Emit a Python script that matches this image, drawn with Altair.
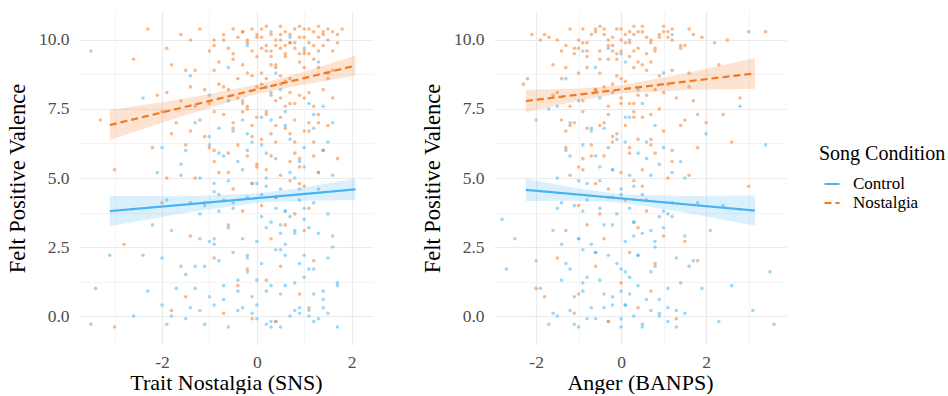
import altair as alt
import pandas as pd

# ---------------- Panel 1: Trait Nostalgia (SNS) ----------------
sns_nos_x = [
    -0.3, 0.1, 0.5, 0.8, 1.1, 1.4, 1.6, 0.2, -0.1, 0.9, 1.2, 0.4, -0.6, 0.7, 1.0, 1.3, 0.0, 0.6, -0.9, 1.5,
    0.3, -0.4, 1.7, 0.8, -1.2, 0.5, 1.1, -0.2, 0.9, 1.4, -1.6, 0.2, 1.8, -0.7, 0.6, 1.0, -2.3, 0.1, 1.3, -0.5,
    -0.8, -0.2, 0.3, 0.7, 1.2, -1.3, 0.0, 0.5, 1.0, -0.5, 1.5, -1.8, 0.2, 0.9, -0.9, 0.6, 1.3, -0.1, -2.6, 0.4,
    -1.1, -0.4, 0.1, 0.6, 1.1, -1.6, -0.7, 0.3, 0.8, 1.4, -0.2, -1.9, 0.5, 1.6, -1.0, 0.0, 0.9, -0.6, 1.2, -2.1, 0.4, -1.4, 0.7, -0.3,
    -1.2, -0.5, 0.2, 0.7, 1.3, -0.9, -0.1, 0.5, 1.0, -1.7, 0.3, -0.7, 0.8, 1.5, -1.4, 0.0, -3.3, 0.6, -0.3, 1.1,
    -1.0, -0.2, 0.4, 0.9, 1.4, -1.5, -0.6, 0.1, 0.7, -0.9, 1.2, 0.3, -2.2, -0.4, 0.8, 1.7,
    -0.8, -0.1, 0.5, 1.0, -1.3, 0.2, 0.7, -0.5, 1.3, -1.9, 0.0, 0.9, -3.0,
    -1.1, -0.3, 0.4, 1.1, -0.7, 0.8, 0.1, -2.0,
    -0.6, 0.3, 1.0, -1.4, 0.6, -2.8,
    -0.9, 0.5, -2.4, 1.2, -0.2,
    -0.4, 0.9, -3.4, 0.2, -1.5,
    -0.7, 0.4, -3.0, 1.1, -0.1, -1.8,
    -0.9, -0.5, -0.1, 0.3, 0.7, 1.0, 1.3, 1.6, 0.1, 0.5, 0.9, 1.2, -0.3, 0.6, 1.5, -1.4, 0.0, 0.8, 1.1, -0.7,
    0.4, 1.7, -1.0, 0.2, 1.4, -0.2, 0.7, -1.9, 1.0, 0.5,
    -1.5, -0.8, -0.2, 0.4, 1.0, 1.5, -1.1, 0.2, 0.8, -0.4, 1.3, -1.8, 0.0, 0.6, -0.6, 1.1, -1.3, 0.3, 0.9, -0.1,
    0.5, 1.6, -0.9, 0.1, 0.7, -0.5, 1.2, -2.0, 0.4, -0.3,
]
sns_nos_y = [
    10.3, 10.1, 9.7, 10.4, 9.9, 10.2, 9.6, 9.8, 10.4, 9.5, 10.3, 10.0, 9.7, 9.9, 10.4, 9.6, 10.2, 10.3, 9.8, 10.0,
    9.6, 10.1, 10.2, 9.7, 10.4, 10.5, 9.5, 9.9, 10.1, 9.8, 10.2, 9.6, 10.4, 10.0, 9.8, 9.6, 10.4, 10.4, 10.1, 9.5,
    9.2, 8.8, 9.1, 8.6, 9.3, 8.9, 9.4, 8.7, 9.0, 9.3, 8.8, 9.1, 8.6, 9.2, 8.9, 9.4, 9.0, 8.7, 9.3, 9.1,
    8.2, 7.9, 8.4, 7.6, 8.1, 7.8, 8.3, 8.0, 7.7, 8.2, 7.6, 8.1, 8.4, 7.9, 7.7, 8.3, 8.0, 8.2, 7.6, 8.0, 7.8, 8.3, 8.1, 7.7,
    7.1, 6.8, 7.3, 6.6, 7.0, 7.4, 6.9, 7.2, 6.7, 7.0, 6.6, 7.3, 7.1, 6.9, 6.7, 7.2, 7.1, 6.8, 7.4, 7.0,
    6.1, 5.8, 6.3, 5.7, 6.0, 6.2, 5.9, 6.4, 5.6, 6.0, 6.3, 5.8, 6.1, 6.2, 5.9, 5.7,
    5.2, 4.8, 5.1, 4.7, 5.0, 5.3, 4.9, 4.6, 5.2, 5.0, 5.4, 4.8, 5.3,
    4.1, 3.8, 4.3, 3.9, 4.2, 3.7, 4.0, 4.1,
    3.2, 2.8, 3.1, 2.9, 3.3, 2.6,
    2.1, 1.8, 2.2, 2.0, 1.7,
    1.1, 0.8, 1.0, 1.3, 0.7,
    0.1, -0.2, -0.4, 0.3, -0.1, 0.2,
    10.0, 10.4, 9.6, 10.2, 9.9, 10.1, 10.5, 10.3, 9.7, 10.2, 10.5, 9.8, 10.3, 9.5, 10.4, 10.0, 10.1, 9.9, 10.4, 10.2,
    9.8, 9.9, 9.6, 10.5, 10.3, 10.0, 10.2, 9.7, 9.5, 10.0,
    8.9, 8.4, 7.5, 9.0, 7.9, 8.6, 6.5, 7.4, 6.3, 8.6, 7.3, 6.6, 5.5, 8.5, 5.2, 6.7, 7.6, 9.4, 5.4, 6.5,
    7.9, 8.9, 5.6, 8.8, 7.7, 7.0, 5.8, 7.4, 6.9, 9.1,
]
sns_ctl_x = [
    -1.9, -1.2, -0.6, -0.1, 0.4, 0.9, 1.3, 1.7, -0.9, 0.2, 0.7, 1.1, -1.5, -0.3, 0.5, 1.5, -3.5, -2.6, 0.0, 1.2,
    -1.7, -1.0, -0.4, 0.2, 0.8, 1.4, -0.7, 0.5, 1.0, -1.3, -0.1, 1.7, -2.3, 0.3,
    -2.0, -1.1, -0.5, 0.1, 0.6, 1.2, -0.8, 0.4, 1.5, -1.6, -0.2, 0.9, -3.1,
    -1.8, -1.2, -0.6, 0.0, 0.5, 1.1, 1.6, -0.9, 0.3, 0.8, -0.3, 1.3, -2.2,
    -1.4, -0.8, -0.2, 0.4, 0.9, 1.5, -1.1, 0.1, 0.7, 1.2, -0.5, -1.9, 0.6,
    -1.6, -0.9, -0.3, 0.2, 0.8, 1.3, -0.6, 0.5, 1.0, -1.2, 0.0, 1.6, -2.1,
    -1.5, -0.7, -0.1, 0.4, 1.0, -1.0, 0.2, 0.7, 1.4, -0.4, -2.0,
    -1.3, -0.5, 0.1, 0.6, 1.2, -0.8, 0.3, 1.6, -0.2,
    -1.0, -0.3, 0.5, 1.1, -2.4, 0.2,
    -0.6, 0.4, 1.3, -1.4,
    -0.2, 0.7, 1.0, -3.5, 0.3,
    -1.4, -0.2, 0.6, 1.0, -0.8, 0.3, 1.4, -1.0, 0.1, 0.9,
    -1.8, -1.1, -0.4, 0.3, 0.9, 1.4, -0.7, 0.0, 0.6, 1.2, -1.5, -0.2, 0.5, 1.1, -0.9, 0.2, 0.8, 1.6, -1.2, -0.5,
    0.4, 1.0, -0.1, 0.7, 1.3, -1.6, -0.8, 0.1, 0.9, 1.5, -1.0, -0.3, 0.6, 1.2, -0.6, 0.3, 1.4, -2.0, 0.0, 0.8,
    -1.3, -0.4, 0.5, 1.0, -0.9, 0.2, 1.7, -0.2, 0.6, 1.1,
]
sns_ctl_y = [
    -0.3, 0.2, -0.4, 0.1, -0.2, 0.3, -0.1, -0.4, 0.4, -0.3, 0.0, 0.2, -0.1, 0.3, -0.4, 0.1, -0.3, 0.0, 0.4, -0.2,
    1.0, 0.7, 1.3, 0.9, 1.2, 0.6, 1.1, 0.8, 1.4, 1.0, 0.7, 1.2, 0.9, 1.1,
    2.1, 1.8, 2.3, 1.9, 2.2, 1.7, 2.0, 2.4, 2.1, 1.8, 2.2, 1.9, 2.2,
    3.1, 2.8, 3.3, 2.7, 3.0, 3.2, 2.9, 2.6, 3.4, 3.1, 2.8, 3.0, 3.3,
    4.1, 3.8, 4.3, 3.9, 4.2, 3.7, 4.0, 4.4, 3.6, 4.1, 3.9, 4.2, 3.8,
    5.1, 4.8, 5.3, 4.7, 5.0, 5.2, 4.9, 4.6, 5.4, 5.0, 4.8, 5.1, 5.2,
    6.0, 5.8, 6.3, 5.7, 6.1, 6.2, 5.9, 6.4, 6.0, 5.6, 6.1,
    7.0, 6.7, 7.2, 6.9, 7.3, 6.8, 7.1, 7.0, 6.6,
    8.0, 7.8, 8.2, 7.7, 7.9, 8.3,
    9.0, 8.8, 9.2, 8.7,
    9.8, 10.1, 9.7, 9.6, 10.3,
    0.3, 1.6, 2.6, 3.5, 4.4, -0.2, 0.9, 2.7, 3.6, 4.6,
    0.0, -0.3, 0.2, -0.4, 0.1, 0.3, 0.6, 1.3, 1.1, 0.8, 1.5, 2.1, 2.4, 1.7, 2.8, 3.2, 3.0, 2.5, 3.7, 4.1,
    4.3, 3.9, 4.8, 5.2, 4.6, 5.5, 5.9, 6.2, 5.6, 6.3, 6.5, 7.1, 7.4, 6.8, 7.8, 8.1, 7.6, 0.4, -0.1, 0.2,
    1.8, 0.9, 3.3, 2.2, 4.5, 5.0, 1.1, 6.0, 3.8, 0.0,
]
sns_fit_x = [-3.1, -1.5, 0.0, 1.0, 2.08]
sns_ctl_fit = [3.80, 4.04, 4.27, 4.42, 4.59]
sns_ctl_lo = [3.25, 3.74, 4.10, 4.18, 4.20]
sns_ctl_hi = [4.35, 4.34, 4.44, 4.66, 4.98]
sns_nos_fit = [6.92, 7.58, 8.21, 8.62, 9.07]
sns_nos_lo = [6.38, 7.28, 8.04, 8.39, 8.70]
sns_nos_hi = [7.46, 7.88, 8.38, 8.85, 9.44]

# ---------------- Panel 2: Anger (BANPS) ----------------
ang_nos_x = [
    -1.8, -1.3, -0.9, -0.5, -0.2, 0.1, 0.4, 0.8, 1.2, 1.6, -1.1, -0.7, -0.3, 0.0, 0.3, 0.6, 1.0, 1.4, -1.5, -0.6,
    0.2, 0.9, -0.1, 0.5, 1.9, 2.5, 3.0, -2.1, -0.8, 0.7, -0.4, 1.1, 3.4, -1.0, 0.3, 1.5, -0.2, 0.0,
    -1.6, -1.0, -0.5, -0.1, 0.3, 0.7, 1.2, -0.8, 0.0, 0.5, 1.6, -1.3, -0.3, 0.9, 2.3, -2.2, 0.2,
    -1.5, -0.9, -0.4, 0.0, 0.4, 0.8, 1.3, -1.2, -0.2, 0.6, 1.7, -0.6, 0.2, 1.0, 2.8, -2.3,
    -1.4, -0.8, -0.3, 0.1, 0.5, 1.0, -1.1, -0.1, 0.7, 1.5, -0.5, 0.3, 2.0,
    -1.3, -0.7, -0.2, 0.2, 0.7, 1.2, -0.9, 0.4, 1.8, -0.4, 2.6,
    -1.2, -0.6, 0.0, 0.5, 1.1, -0.9, 0.3, 1.6, -0.3, 3.0,
    -1.0, -0.2, 0.6, 1.2, -0.5, 0.1,
    -1.3, -0.4, 0.4, 1.0, -0.8, 1.5,
    -1.5, -0.6, 0.2, 0.8, 1.8,
    -2.0, -1.0, 0.0, 0.7, -1.8,
    -1.1, -0.3, 0.4, 1.3,
    -1.7, -1.2, -0.8, -0.4, 0.0, 0.3, 0.7, 1.1, 1.4, -1.0, -0.6, -0.1, 0.4, 0.9, 1.7, -1.4, -0.3, 0.2, 0.6, 1.2,
    -0.9, -0.5, 0.1, 0.8, -1.9, -0.2, 0.5, 1.0, -1.1, 2.2,
    -1.4, -0.9, -0.5, -0.1, 0.3, 0.7, 1.1, -1.2, -0.3, 0.5, 1.4, -0.7, 0.1, 0.9, -1.6, -0.2, 0.4, 1.2, -1.0, 0.0,
    0.6, -0.4, 1.6, -0.8, 0.2, 0.8, -1.3, 2.4, -0.6, 0.3,
]
ang_nos_y = [
    10.2, 9.8, 10.4, 9.6, 10.1, 9.9, 10.3, 9.7, 10.0, 10.4, 9.5, 10.2, 9.8, 10.4, 9.6, 10.1, 10.3, 9.7, 10.0, 10.4,
    9.9, 10.2, 9.5, 10.5, 10.1, 10.0, 10.3, 10.2, 9.6, 9.9, 10.4, 10.1, 10.3, 9.7, 10.2, 9.8, 9.6, 10.0,
    9.1, 8.8, 9.3, 8.7, 9.0, 9.2, 8.9, 9.4, 8.6, 9.1, 8.8, 9.0, 9.3, 8.7, 9.1, 8.6, 9.4,
    8.1, 7.8, 8.3, 7.7, 8.0, 8.2, 7.9, 7.6, 8.4, 8.0, 7.8, 8.2, 7.7, 8.1, 7.9, 8.4,
    7.1, 6.8, 7.3, 6.9, 7.2, 6.7, 7.0, 6.6, 7.3, 7.1, 6.9, 7.4, 7.0,
    6.1, 5.8, 6.3, 5.9, 6.2, 6.0, 5.7, 6.4, 6.1, 5.8, 6.3,
    5.1, 4.8, 5.2, 4.7, 5.0, 5.3, 4.9, 5.1, 4.6, 4.7,
    4.0, 4.3, 3.8, 4.1, 3.7, 4.2,
    3.1, 2.8, 3.2, 2.9, 3.3, 2.7,
    2.1, 1.8, 2.3, 1.9, 2.0,
    1.0, 0.8, 1.2, 0.9, 0.7,
    0.1, -0.2, 0.3, -0.1,
    10.1, 10.4, 9.9, 10.2, 9.6, 10.5, 10.0, 10.3, 9.8, 10.0, 10.3, 10.4, 9.7, 10.1, 10.2, 9.6, 10.0, 10.3, 9.5, 10.4,
    9.9, 10.5, 10.2, 9.6, 10.0, 9.8, 10.3, 10.5, 9.7, 9.9,
    8.6, 7.4, 8.8, 9.3, 7.2, 6.4, 8.4, 6.9, 7.6, 5.3, 6.9, 6.2, 8.5, 7.5, 8.0, 6.5, 9.2, 5.6, 5.4, 7.9,
    8.9, 7.0, 8.3, 9.0, 6.1, 5.9, 6.7, 7.3, 8.2, 7.7,
]
ang_ctl_x = [
    -1.7, -1.2, -0.8, -0.4, 0.0, 0.3, 0.7, 1.1, 1.5, -1.0, -0.2, 0.5, 0.9, -1.5, 2.3, 3.1, 3.6, 0.1, -0.6, 1.3,
    -1.9, -1.1, -0.5, 0.0, 0.4, 0.9, 1.4, -0.8, 0.2, 1.9, -0.2, 2.6, -1.4,
    -2.0, -1.2, -0.6, -0.1, 0.4, 0.8, 1.3, -0.9, 0.1, 1.7, -2.7, 3.5, -0.3,
    -1.6, -1.0, -0.4, 0.1, 0.5, 1.0, 1.5, -0.7, 0.3, 2.1, -2.5, 0.8,
    -1.4, -0.9, -0.3, 0.2, 0.6, 1.1, -1.1, 0.0, 0.9, 1.8, -2.8, -0.5,
    -1.5, -0.8, -0.2, 0.3, 0.7, 1.2, -1.0, 0.0, 1.5, -0.5,
    -1.3, -0.6, 0.1, 0.6, 1.0, -0.9, 0.4, 3.4, -0.1,
    -1.2, -0.4, 0.2, 0.8, -2.0, 1.8, -0.7,
    -1.0, -0.2, 0.5, -1.5, 2.8,
    -0.6, 0.1, 1.0, -1.3,
    -0.3, 0.2, -0.9, 1.2, 0.0,
    -1.6, -1.1, -0.7, -0.3, 0.1, 0.5, 0.9, 1.3, -0.9, -0.4, 0.2, 0.6, 1.1, -1.3, -0.6, 0.0, 0.4, 0.8, 1.6, -1.0,
    -0.2, 0.3, 0.7, 1.2, -1.5, -0.8, -0.1, 0.5, 1.0, -0.5, 0.2, 0.9, -1.2, -0.3, 0.6, 1.4, -0.7, 0.1, 2.0, -1.7,
    -0.5, 0.4, 1.1, -0.9, 0.0, 0.7, -1.4, 0.3, 2.4, -0.2,
]
ang_ctl_y = [
    -0.3, 0.2, -0.1, 0.3, -0.4, 0.0, 0.2, -0.2, 0.1, -0.4, 0.4, -0.3, 0.1, 0.0, -0.2, 0.2, -0.3, 0.4, -0.1, -0.4,
    1.0, 0.7, 1.3, 0.9, 1.1, 0.6, 1.2, 1.4, 0.8, 1.0, 0.7, 1.1, 1.3,
    2.0, 1.7, 2.3, 1.9, 2.2, 1.8, 2.1, 2.4, 1.6, 2.0, 1.7, 1.6, 2.2,
    3.1, 2.8, 3.3, 2.7, 3.0, 3.2, 2.9, 2.6, 3.4, 3.1, 2.8, 2.7,
    4.1, 3.8, 4.3, 3.9, 4.2, 3.7, 4.0, 4.4, 3.6, 4.1, 3.5, 3.9,
    5.0, 4.8, 5.3, 4.7, 5.1, 5.2, 4.9, 4.6, 5.0, 5.4,
    6.0, 5.8, 6.3, 5.7, 6.1, 6.2, 5.9, 6.2, 6.4,
    7.0, 6.8, 7.2, 6.9, 7.1, 7.3, 6.7,
    7.8, 8.1, 7.7, 7.6, 7.6,
    9.0, 9.2, 8.8, 8.6,
    9.7, 10.0, 9.6, 10.2, 9.5,
    0.1, -0.3, 0.3, -0.2, 0.4, -0.4, 0.0, 0.2, 1.2, 0.8, 1.4, 0.6, 1.0, 1.9, 2.3, 1.7, 2.2, 2.5, 1.8, 2.8,
    3.3, 2.9, 3.1, 3.6, 3.9, 4.2, 3.7, 4.4, 3.8, 4.9, 5.1, 5.5, 5.8, 6.1, 6.3, 5.6, 6.8, 7.2, 6.6, 7.5,
    7.9, 8.2, 0.3, 0.9, -0.1, 1.6, 2.6, 3.4, 4.0, 5.3,
]
ang_fit_x = [-2.24, -1.0, 0.0, 1.5, 3.15]
ang_ctl_fit = [4.57, 4.40, 4.26, 4.05, 3.82]
ang_ctl_lo = [4.17, 4.18, 4.11, 3.75, 3.27]
ang_ctl_hi = [4.97, 4.62, 4.41, 4.35, 4.37]
ang_nos_fit = [7.79, 8.02, 8.21, 8.49, 8.79]
ang_nos_lo = [7.38, 7.80, 8.06, 8.19, 8.23]
ang_nos_hi = [8.20, 8.24, 8.36, 8.79, 9.35]

conditions = ["Control", "Nostalgia"]
cond_colors = ["#45B3F4", "#F5781E"]
y_ticks = [0, 1.25, 2.5, 3.75, 5, 6.25, 7.5, 8.75, 10]
y_title = "Felt Positive Valence"
legend_title = "Song Condition"

FONT = "Liberation Serif"
Y_DOMAIN = [-1.05, 11.05]


def make_panel(ctl_x, ctl_y, nos_x, nos_y, fit_x, ctl_fit, ctl_lo, ctl_hi,
               nos_fit, nos_lo, nos_hi, x_domain, x_ticks, x_title, w):
    pts = pd.concat([
        pd.DataFrame({"x": ctl_x, "y": ctl_y, "cond": "Control"}),
        pd.DataFrame({"x": nos_x, "y": nos_y, "cond": "Nostalgia"}),
    ])
    fit = pd.concat([
        pd.DataFrame({"x": fit_x, "fit": ctl_fit, "lo": ctl_lo, "hi": ctl_hi, "cond": "Control"}),
        pd.DataFrame({"x": fit_x, "fit": nos_fit, "lo": nos_lo, "hi": nos_hi, "cond": "Nostalgia"}),
    ])
    xscale = alt.Scale(domain=x_domain, nice=False, zero=False)
    yscale = alt.Scale(domain=Y_DOMAIN, nice=False, zero=False)
    cscale = alt.Scale(domain=conditions, range=cond_colors)
    xaxis = alt.Axis(
        values=x_ticks,
        labelExpr="datum.value % 2 === 0 ? toString(datum.value) : ''",
        grid=True, gridColor="#EBEBEB",
        gridWidth={"condition": {"test": "datum.value % 2 !== 0", "value": 0.6}, "value": 1.2},
        domain=False, ticks=False, labelPadding=8, titlePadding=2, titleFontSize=22,
    )
    yaxis = alt.Axis(
        values=y_ticks,
        labelExpr="datum.value % 2.5 === 0 ? format(datum.value, '.1f') : ''",
        grid=True, gridColor="#EBEBEB",
        gridWidth={"condition": {"test": "datum.value % 2.5 !== 0", "value": 0.6}, "value": 1.2},
        domain=False, ticks=False, labelPadding=10, titlePadding=9, titleFontSize=22.5,
    )
    legend = alt.Legend(
        title=legend_title, orient="none", legendX=740, legendY=133,
        symbolType="stroke", symbolSize=225, symbolStrokeWidth=2.2, symbolOpacity=1,
        symbolOffset=4,
        titleFontSize=20, labelFontSize=17, titleFontWeight="normal",
        titleColor="black", labelColor="black", titlePadding=11, rowPadding=2,
        labelOffset=12,
    )
    x_enc = alt.X("x:Q", scale=xscale, axis=xaxis, title=x_title)

    points = alt.Chart(pts).mark_circle(size=13, opacity=0.52).encode(
        x=x_enc,
        y=alt.Y("y:Q", scale=yscale, axis=yaxis, title=y_title),
        color=alt.Color("cond:N", scale=cscale, legend=legend),
    )
    band = alt.Chart(fit).mark_area(opacity=0.2).encode(
        x=x_enc,
        y=alt.Y("lo:Q", scale=yscale, axis=yaxis, title=y_title),
        y2="hi:Q",
        color=alt.Color("cond:N", scale=cscale, legend=legend),
    )
    line = alt.Chart(fit).mark_line(strokeWidth=2.2).encode(
        x=x_enc,
        y=alt.Y("fit:Q", scale=yscale, axis=yaxis, title=y_title),
        color=alt.Color("cond:N", scale=cscale, legend=legend),
        strokeDash=alt.StrokeDash("cond:N", scale=alt.Scale(domain=conditions, range=[[1, 0], [7, 4]]),
                                  legend=legend),
    )
    return alt.layer(points, band, line).properties(width=w, height=334)


p1 = make_panel(sns_ctl_x, sns_ctl_y, sns_nos_x, sns_nos_y, sns_fit_x,
                sns_ctl_fit, sns_ctl_lo, sns_ctl_hi, sns_nos_fit, sns_nos_lo, sns_nos_hi,
                [-3.75, 2.45], [-3, -2, -1, 0, 1, 2], "Trait Nostalgia (SNS)", 294)
p2 = make_panel(ang_ctl_x, ang_ctl_y, ang_nos_x, ang_nos_y, ang_fit_x,
                ang_ctl_fit, ang_ctl_lo, ang_ctl_hi, ang_nos_fit, ang_nos_lo, ang_nos_hi,
                [-2.99, 3.88], [-2, -1, 0, 1, 2, 3], "Anger (BANPS)", 292)

chart = alt.hconcat(p1, p2, spacing=48).resolve_scale(
    x="independent", y="independent", color="shared", strokeDash="shared"
).properties(
    padding={"left": 6, "top": 11, "right": 0, "bottom": 0}
).configure_view(stroke=None).configure_axis(
    labelFont=FONT, titleFont=FONT, labelFontSize=17.5,
    labelColor="#4D4D4D", titleColor="black", titleFontWeight="normal",
).configure_legend(
    labelFont=FONT, titleFont=FONT,
)

chart.save("out.html", embed_options={"renderer": "svg", "actions": False})
